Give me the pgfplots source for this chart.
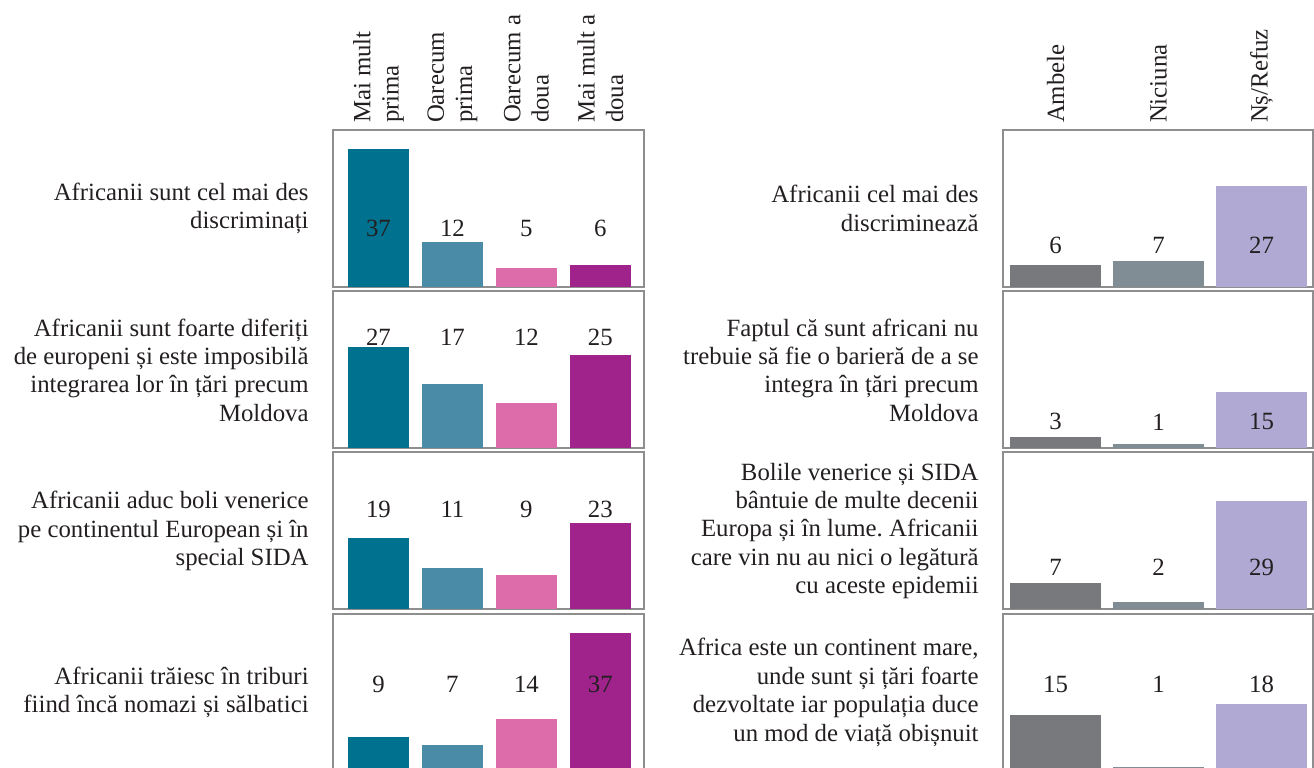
\documentclass[border=0pt]{standalone}
\usepackage{pgfplots}
\pgfplotsset{compat=1.18}
\usepackage{fontspec}
\setmainfont{Liberation Serif}
\frenchspacing

\definecolor{cA}{HTML}{00718F}
\definecolor{cB}{HTML}{4A8BA8}
\definecolor{cC}{HTML}{DC6DAA}
\definecolor{cD}{HTML}{A0228B}
\definecolor{rA}{HTML}{78797D}
\definecolor{rB}{HTML}{808D95}
\definecolor{rC}{HTML}{AFA9D3}
\definecolor{frame}{HTML}{8E8E8E}
\definecolor{ink}{HTML}{231F20}

\newcommand{\txt}{\fontsize{12.4}{14.2}\selectfont}

\pgfplotsset{
  row/.style={
    scale only axis, height=78.5pt, ymin=0, ymax=42,
    axis line style={draw=frame, line width=1pt},
    ytick=\empty, major tick length=0pt,
    xticklabels={}, anchor=north west,
    xticklabel pos=upper,
    xticklabel style={rotate=90, anchor=west, align=left, font=\txt, text=ink},
  },
  leftrow/.style={row, width=155.5pt, xmin=-0.615, xmax=3.59, xtick={0,1,2,3}},
  rightrow/.style={row, width=155pt, xmin=-0.51, xmax=2.5, xtick={0,1,2}},
  bar/.style={ybar, bar shift=0pt, draw=none, fill=#1},
  vals/.style={draw=none, mark=none, nodes near coords, point meta=explicit symbolic,
    nodes near coords align=center, every node near coord/.style={font=\txt, text=ink}},
}

% #1 top (pt), #2-#5 values, #6 height of the value labels, #7 extra options
\newcommand{\leftrow}[7]{%
\begin{axis}[leftrow, at={(166.5pt,#1)}, #7]
\addplot[bar=cA, bar width=30.5pt] coordinates {(0,#2)};
\addplot[bar=cB, bar width=30.5pt] coordinates {(1,#3)};
\addplot[bar=cC, bar width=30.5pt] coordinates {(2,#4)};
\addplot[bar=cD, bar width=30.5pt] coordinates {(3,#5)};
\addplot[vals] coordinates {(0,#6) [#2] (1,#6) [#3] (2,#6) [#4] (3,#6) [#5]};
\end{axis}}

\newcommand{\rightrow}[6]{%
\begin{axis}[rightrow, at={(501.5pt,#1)}, #6]
\addplot[bar=rA, bar width=45.5pt] coordinates {(0,#2)};
\addplot[bar=rB, bar width=45.5pt] coordinates {(1,#3)};
\addplot[bar=rC, bar width=45.5pt] coordinates {(2,#4)};
\addplot[vals] coordinates {(0,#5) [#2] (1,#5) [#3] (2,#5) [#4]};
\end{axis}}

\begin{document}
\begin{tikzpicture}
\clip (0,0) rectangle (657pt,383.5pt);

\leftrow{318.5pt}{37}{12}{5}{6}{15.7}{xticklabels={{Mai mult\\prima},{Oarecum\\prima},{Oarecum a\\doua},{Mai mult a\\doua}}}
\leftrow{238pt}{27}{17}{12}{25}{29.6}{}
\leftrow{157.5pt}{19}{11}{9}{23}{26.7}{}
\leftrow{76.5pt}{9}{7}{14}{37}{23.2}{}

\rightrow{318.5pt}{6}{7}{27}{11.2}{xticklabels={Ambele,Niciuna,Nș/Refuz}}
\rightrow{238pt}{3}{1}{15}{7}{}
\rightrow{157.5pt}{7}{2}{29}{11.2}{}
\rightrow{76.5pt}{15}{1}{18}{23.2}{}

\begin{scope}[every node/.style={anchor=east, align=right, font=\txt, text=ink, inner sep=0pt}]
\node at (154.5pt,279.25pt) {Africanii sunt cel mai des\\discriminați};
\node at (154.5pt,198.5pt) {Africanii sunt foarte diferiți\\de europeni și este imposibilă\\integrarea lor în țări precum\\Moldova};
\node at (154.5pt,118pt) {Africanii aduc boli venerice\\pe continentul European și în\\special SIDA};
\node at (154.5pt,37.25pt) {Africanii trăiesc în triburi\\fiind încă nomazi și sălbatici};
\node at (489.5pt,279.25pt) {Africanii cel mai des\\discriminează};
\node at (489.5pt,198.5pt) {Faptul că sunt africani nu\\trebuie să fie o barieră de a se\\integra în țări precum\\Moldova};
\node at (489.5pt,118pt) {Bolile venerice și SIDA\\bântuie de multe decenii\\Europa și în lume. Africanii\\care vin nu au nici o legătură\\cu aceste epidemii};
\node at (489.5pt,37.25pt) {Africa este un continent mare,\\unde sunt și țări foarte\\dezvoltate iar populația duce\\un mod de viață obișnuit};
\end{scope}
\end{tikzpicture}
\end{document}
